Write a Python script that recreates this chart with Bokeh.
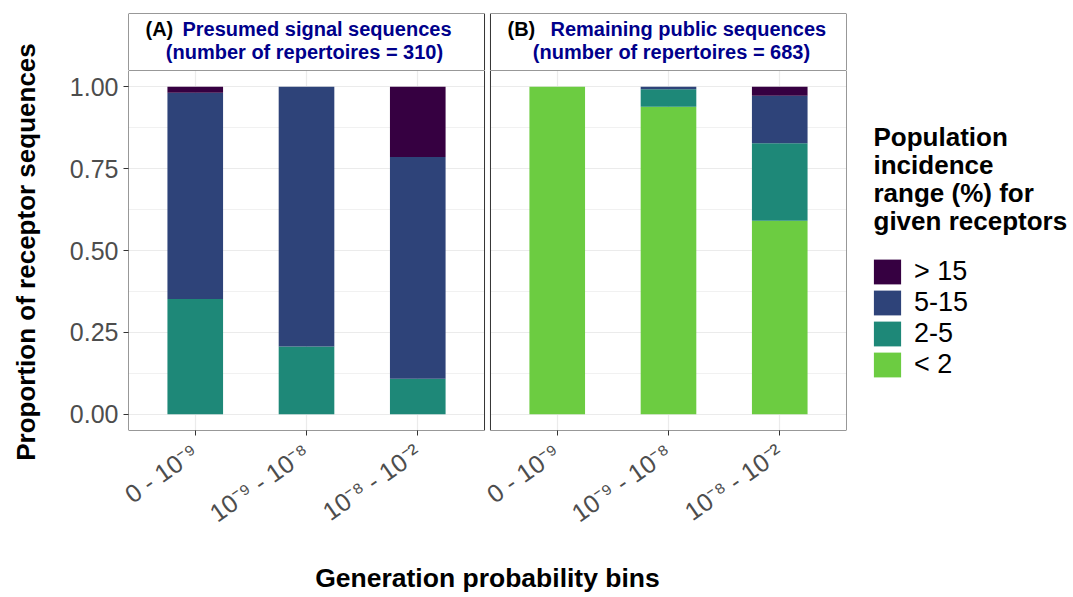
import math
from bokeh.plotting import figure
from bokeh.layouts import row, column
from bokeh.models import (ColumnDataSource, FactorRange, Range1d, FixedTicker, Div,
                          NumeralTickFormatter, Label, Legend, LegendItem, BoxAnnotation)
from bokeh.embed import file_html
from bokeh.resources import INLINE

# ---------------- data ----------------
panels = ["A", "B"]
bins = ["0 - 10⁻⁹", "10⁻⁹ - 10⁻⁸", "10⁻⁸ - 10⁻²"]
incidence = ["< 2", "2-5", "5-15", "> 15"]          # stacking order, bottom -> top
colors = ["#6CCC41", "#1E8878", "#2E4379", "#360041"]

signal_lt2 = [0.000, 0.000, 0.000]
signal_2_5 = [0.352, 0.207, 0.108]
signal_5_15 = [0.630, 0.793, 0.678]
signal_gt15 = [0.018, 0.000, 0.214]

remaining_lt2 = [1.000, 0.939, 0.591]
remaining_2_5 = [0.000, 0.054, 0.237]
remaining_5_15 = [0.000, 0.007, 0.145]
remaining_gt15 = [0.000, 0.000, 0.027]

strip_tags = ["(A)", "(B)"]
strip_titles = ["Presumed signal sequences", "Remaining public sequences"]
repertoires = [310, 683]
legend_title = ["Population", "incidence", "range (%) for", "given receptors"]
y_ticks = [0, 0.25, 0.5, 0.75, 1.0]
y_minor = [0.125, 0.375, 0.625, 0.875]
x_title = "Generation probability bins"
y_title = "Proportion of receptor sequences"

# ---------------- layout constants ----------------
FONT = "Liberation Sans"
NAVY = "#00008B"
BORDER = "#333333"
GRID = "#ebebeb"
TICKTXT = "#4d4d4d"

Y_LO, Y_HI = -0.05, 1.05
EXPAND = 0.6          # ggplot discrete expansion
GROUP_PAD = 0.2536    # spacing between the two facet panels
PAD = EXPAND - 0.5

cats = [(pn, b) for pn in panels for b in bins]
xr = FactorRange(*cats, group_padding=GROUP_PAD, factor_padding=0,
                 range_padding=PAD, range_padding_units="absolute")

n = len(bins)
a_left = 0.5 - EXPAND
a_right = (n - 0.5) + EXPAND
b_left = n + GROUP_PAD + 0.5 - EXPAND
b_right = 2 * n + GROUP_PAD - 0.5 + EXPAND
panel_edges = ((a_left, a_right), (b_left, b_right))


def lab(fig, text, x, y, size, color="black", bold=True, align="left"):
    fig.add_layout(Label(x=x, y=y, x_units="screen", y_units="screen", text=text,
                         text_font=FONT, text_font_size=size,
                         text_font_style="bold" if bold else "normal",
                         text_color=color, text_align=align,
                         text_baseline="alphabetic"))


def blank(fig):
    fig.outline_line_color = None
    fig.background_fill_color = "white"
    fig.border_fill_color = "white"

# ---------------- y-axis title (rotated HTML text, centred on the panels) ----------
ydiv = Div(text=(
    '<div style="position:absolute;left:26px;top:252px;'
    'transform:translate(-50%,-50%) rotate(-90deg);white-space:nowrap;'
    "font-family:'Liberation Sans';font-weight:bold;font-size:26px;"
    f'line-height:30px;color:black;">{y_title}</div>'),
    width=50, height=597, margin=0,
    styles={"position": "relative", "overflow": "visible"})

# ---------------- facet strips (own canvas, same x range) ----------------
strip = figure(width=800, height=70, x_range=xr, y_range=Range1d(0, 1),
               output_backend="svg", toolbar_location=None, tools="",
               x_axis_location=None, y_axis_location=None,
               min_border_left=78, min_border_right=4,
               min_border_top=13, min_border_bottom=0)
blank(strip)
strip.grid.visible = False
for l, r in panel_edges:
    strip.add_layout(BoxAnnotation(left=l, right=r, bottom=0, top=1,
                                   fill_color="white", fill_alpha=1,
                                   line_color=BORDER, line_width=1, line_alpha=1))
tag_x = [17, 379]
title_x = [54, 422]
line2_x = [176, 543]
for i in range(2):
    lab(strip, strip_tags[i], tag_x[i], 42, "20px")
    lab(strip, strip_titles[i], title_x[i], 42, "20px", color=NAVY)
    lab(strip, f"(number of repertoires = {repertoires[i]})", line2_x[i], 19, "20px",
        color=NAVY, align="center")

# ---------------- main panels ----------------
p = figure(width=800, height=527, x_range=xr, y_range=Range1d(Y_LO, Y_HI),
           output_backend="svg", toolbar_location=None, tools="",
           min_border_left=78, min_border_right=4,
           min_border_top=0, min_border_bottom=167)
blank(p)

src = ColumnDataSource(dict(
    x=cats,
    **{
        incidence[0]: signal_lt2 + remaining_lt2,
        incidence[1]: signal_2_5 + remaining_2_5,
        incidence[2]: signal_5_15 + remaining_5_15,
        incidence[3]: signal_gt15 + remaining_gt15,
    }))
p.vbar_stack(incidence, x="x", width=0.5, fill_color=colors,
             line_color=None, source=src)

yt = FixedTicker(ticks=y_ticks, minor_ticks=y_minor)
p.yaxis.ticker = yt
p.ygrid.ticker = yt
p.yaxis.formatter = NumeralTickFormatter(format="0.00")
for ax in (p.xaxis[0], p.yaxis[0]):
    ax.axis_line_color = None
    ax.major_tick_line_color = BORDER
    ax.major_tick_out = 5
    ax.major_tick_in = 0
    ax.minor_tick_line_color = None
    ax.major_label_text_font = FONT
    ax.major_label_text_font_size = "25px"
    ax.major_label_text_color = TICKTXT
    ax.axis_label_text_font = FONT
    ax.axis_label_text_font_style = "bold"
    ax.axis_label_text_color = "black"
p.yaxis.major_label_standoff = 5

p.xaxis.major_label_orientation = math.radians(35)
p.xaxis.major_label_standoff = 14
p.xaxis.group_text_color = None
p.xaxis.group_text_font_size = "1px"
p.xaxis.separator_line_color = None
p.xaxis.axis_label = x_title
p.xaxis.axis_label_text_font_size = "26.5px"
p.xaxis.axis_label_standoff = 22

p.xgrid.grid_line_color = GRID
p.xgrid.grid_line_width = 1.2
p.ygrid.grid_line_color = GRID
p.ygrid.grid_line_width = 1.2
p.ygrid.minor_grid_line_color = GRID
p.ygrid.minor_grid_line_width = 0.7

p.add_layout(BoxAnnotation(left=a_right, right=b_left, bottom=Y_LO, top=Y_HI,
                           fill_color="white", fill_alpha=1, line_color=None))
for l, r in panel_edges:
    p.add_layout(BoxAnnotation(left=l, right=r, bottom=Y_LO, top=Y_HI,
                               fill_alpha=0, line_color=BORDER, line_width=1, line_alpha=1))

# ---------------- legend (own canvas on the right; frame aligned with the panels) -----
lf = figure(width=223, height=527, x_range=Range1d(0, 1), y_range=Range1d(0, 1),
            output_backend="svg", toolbar_location=None, tools="",
            x_axis_type=None, y_axis_type=None,
            min_border_left=0, min_border_right=0, min_border_top=0, min_border_bottom=167)
blank(lf)

# key glyphs (zero-height bars: they only lend their fill to the legend keys)
swatches = [lf.vbar(x=[0.5], bottom=[0], top=[0], width=0.5, fill_color=c, line_color=None)
            for c in colors]
items = [LegendItem(label=name, renderers=[r])
         for name, r in reversed(list(zip(incidence, swatches)))]
leg = Legend(items=items, location=(20, 50), orientation="vertical",
             glyph_width=34, glyph_height=31, label_height=31, spacing=0,
             padding=0, margin=0, label_standoff=10,
             label_text_font=FONT, label_text_font_size="27px",
             label_text_color="black", border_line_alpha=0,
             background_fill_alpha=0, inactive_fill_alpha=0)
lf.add_layout(leg)

for i, t in enumerate(legend_title):
    lab(lf, t, 23, 294 - 28 * i, "26px")

open("out.html", "w").write(file_html(row(ydiv, column(strip, row(p, lf))), INLINE))
